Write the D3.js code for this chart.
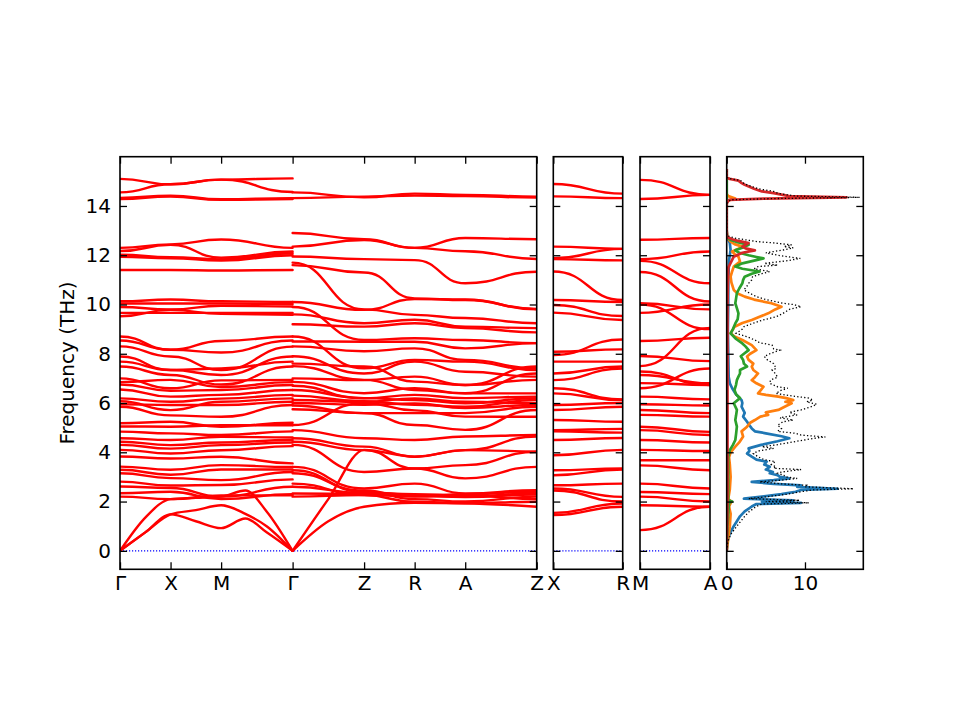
<!DOCTYPE html>
<html><head><meta charset="utf-8">
<script src="https://cdn.jsdelivr.net/npm/d3@7"></script>
<style>body{margin:0;background:#fff} text{font-family:"DejaVu Sans",sans-serif}</style>
</head><body>
<svg id="c" width="960" height="720"></svg>
<script>
// ---------------- DATA ----------------
const qTicksMain = [0, 0.5, 1.0, 1.707, 2.414, 2.914, 3.414, 4.121];
const qLabelsMain = ["Γ","X","M","Γ","Z","R","A","Z"];
const qTicksXR = [0, 0.707]; const qLabelsXR = ["X","R"];
const qTicksMA = [0, 0.707]; const qLabelsMA = ["M","A"];
const freqTicks = [0,2,4,6,8,10,12,14];
const dosTicks = [0,10];

// path Γ-X-M-Γ, values at knots
const knotsA = [0, 0.5, 1.0, 1.707];
const bandsA = [
 [15.10,14.88,15.07,15.12],[14.55,14.88,15.07,14.57],[14.33,14.42,14.27,14.32],[14.28,14.38,14.25,14.28],
 [12.30,12.44,12.64,12.30],[12.17,12.42,11.90,12.15],[12.02,11.92,11.83,12.08],[11.94,11.88,11.78,12.00],
 [11.40,11.40,11.38,11.40],[10.13,10.20,10.13,10.10],[10.04,10.04,10.04,10.02],[9.90,9.80,9.95,9.92],
 [9.66,9.66,9.66,9.66],[9.52,9.78,9.62,9.58],[8.70,8.16,8.52,8.70],[8.54,8.16,8.05,8.54],
 [8.30,7.89,7.34,8.29],[7.89,7.34,7.14,7.89],[7.68,7.34,7.40,7.68],[7.48,7.14,6.75,7.48],
 [7.00,6.60,6.92,6.94],[6.85,6.94,6.65,6.85],[6.75,6.50,6.53,6.73],[6.55,6.26,6.33,6.53],
 [6.19,6.05,6.18,6.33],[6.07,5.71,6.05,6.19],[5.95,5.92,5.92,6.05],[5.85,5.50,5.44,5.92],
 [5.18,5.24,5.04,5.20],[5.05,5.04,5.10,5.10],[4.84,4.77,4.70,4.85],[4.57,4.50,4.63,4.60],
 [4.43,4.29,4.40,4.50],[4.30,4.15,4.29,4.40],[4.10,3.95,4.08,4.25],[3.83,3.75,3.82,3.55],
 [3.42,3.29,3.48,3.40],[3.29,3.09,3.30,3.30],[3.15,2.95,2.87,3.20],[2.81,2.65,2.67,2.90],
 [2.61,2.55,2.20,2.60],[2.34,2.40,2.10,2.30],[2.20,2.10,2.25,2.25]
];
const knotsAcA = [0, 0.25, 0.5, 0.75, 1.0, 1.24, 1.45, 1.707];
const acousticA = [
 [0,0.75,1.48,1.20,0.92,1.31,0.75,0],
 [0,0.75,1.48,1.65,1.85,1.50,1.00,0],
 [0,1.35,2.10,2.15,2.20,2.45,1.60,0]
];
// path Γ-Z-R-A-Z
const knotsB = [1.707, 2.414, 2.914, 3.414, 4.121];
const bandsB = [
 [14.55,14.35,14.50,14.45,14.38],[14.32,14.38,14.42,14.40,14.34],[12.90,12.65,12.30,12.70,12.65],
 [12.35,12.62,12.30,12.16,11.85],[11.95,11.84,11.80,10.86,11.33],[11.60,11.30,10.25,10.18,9.82],
 [11.70,9.80,9.58,9.45,9.24],[10.10,9.78,10.22,10.20,9.80],[9.90,8.56,8.63,8.56,8.43],
 [9.60,9.24,9.38,9.10,9.04],[9.20,9.10,9.24,9.04,8.87],[8.70,7.41,7.75,7.68,7.34],
 [8.50,8.49,8.49,8.22,8.43],[8.30,8.10,8.22,7.75,7.41],[7.90,7.20,7.68,7.27,7.07],
 [7.60,7.48,6.87,6.73,7.48],[7.50,6.94,6.53,6.40,7.20],[7.00,6.93,7.07,6.73,6.94],
 [6.86,6.40,6.60,6.39,6.39],[6.70,6.19,6.33,6.20,6.26],[6.53,6.20,6.12,5.99,6.20],
 [6.30,6.07,5.93,5.85,6.12],[6.12,6.05,6.19,6.05,5.99],[6.00,5.93,5.98,5.80,5.92],
 [5.90,5.59,5.59,5.59,5.85],[5.75,5.59,5.11,4.91,5.72],[5.11,6.00,5.70,5.45,5.44],
 [4.90,4.57,4.50,4.64,4.70],[4.57,4.23,3.82,4.09,4.64],[4.43,4.09,3.34,3.48,4.02],
 [4.30,3.20,3.34,2.94,3.41],[3.41,2.53,2.73,2.33,2.46],[3.27,2.39,2.26,2.20,2.33],
 [3.15,2.45,2.10,2.00,2.20],[2.73,2.26,1.99,1.93,1.99],[2.60,2.35,2.30,2.25,2.10],
 [2.33,2.30,2.20,2.30,2.40],[2.20,2.26,2.22,2.18,2.28]
];
const knotsAcB = [1.707, 2.06, 2.414, 2.914, 3.414, 4.121];
const acousticB = [
 [0,1.20,1.79,1.95,1.93,1.79],
 [0,2.10,4.10,3.82,4.09,4.02]
];
// path X-R
const knotsXR = [0, 0.707];
const bandsXR = [
 [14.89,14.50],[14.39,14.32],[12.35,12.26],[11.88,12.26],[11.84,11.79],[11.34,10.18],[10.18,10.10],
 [9.98,9.53],[9.67,9.37],[8.08,8.18],[7.95,8.58],[7.68,7.68],[7.20,7.48],[6.93,7.40],[6.60,6.15],
 [6.39,6.12],[5.92,6.00],[5.72,5.85],[5.31,5.24],[4.90,4.95],[4.85,4.80],[4.50,4.58],[3.88,4.10],
 [3.27,3.34],[3.07,3.30],[2.66,2.73],[2.53,2.19],[2.45,2.00],[1.54,1.92],[1.45,1.79]
];
// path M-A
const knotsMA = [0, 0.707];
const bandsMA = [
 [15.06,14.45],[14.28,14.45],[12.63,12.70],[11.84,12.15],[11.77,10.86],[11.32,10.12],[10.05,9.80],
 [9.66,10.00],[10.00,9.00],[8.52,8.65],[7.91,7.70],[7.50,9.05],[7.28,6.73],[7.14,6.80],[6.81,6.73],
 [6.60,7.40],[6.26,6.15],[5.95,5.90],[5.72,5.59],[5.52,5.45],[5.04,4.83],[4.90,4.70],[4.50,4.40],
 [4.10,4.05],[3.68,3.68],[3.47,3.27],[2.73,2.53],[2.39,2.30],[2.20,2.00],[1.85,1.79],[0.84,1.79]
];
// DOS: [frequency, states]
const dosBlue = [[0,0],[0.4,0.1],[0.7,0.4],[1.0,0.9],[1.2,1.3],[1.4,1.7],[1.6,2.3],[1.8,3.2],[1.9,3.8],[1.95,9.5],
 [2.0,4.5],[2.05,8.5],[2.12,2.2],[2.2,4.5],[2.3,7.0],[2.4,8.8],[2.47,9.5],[2.52,14.2],[2.6,9.0],[2.66,9.5],
 [2.72,6.0],[2.8,3.2],[2.87,6.0],[2.94,8.0],[3.0,6.8],[3.07,6.5],[3.15,5.5],[3.2,5.9],[3.3,5.0],[3.41,5.5],
 [3.5,4.8],[3.62,5.1],[3.7,3.8],[3.82,3.2],[3.95,2.6],[4.05,2.9],[4.16,2.8],[4.3,4.4],[4.45,6.5],[4.57,8.0],
 [4.65,7.0],[4.77,5.0],[4.85,3.6],[4.97,3.2],[5.1,2.9],[5.24,2.6],[5.45,2.1],[5.6,2.3],[5.85,1.9],[6.0,2.0],
 [6.12,1.9],[6.25,1.5],[6.39,1.1],[6.6,0.7],[6.8,0.4],[7.07,0.25],[8.0,0.2],[9.0,0.15],[10.0,0.2],[11.0,0.2],
 [11.8,0.3],[12.2,0.5],[12.5,0.4],[12.7,0.1],[13.0,0],[15.5,0]];
const dosOrange = [[0,0],[0.5,0.2],[1.0,0.4],[1.5,0.5],[1.8,0.3],[2.0,0.6],[2.1,0.2],[2.5,0.4],[3.0,0.5],[3.5,0.4],
 [3.8,0.3],[4.0,0.5],[4.23,1.1],[4.4,1.6],[4.64,2.1],[4.85,1.9],[5.04,2.6],[5.2,3.0],[5.31,3.6],[5.45,4.3],
 [5.52,5.3],[5.62,5.0],[5.72,6.6],[5.85,7.4],[5.99,8.3],[6.05,7.5],[6.12,8.5],[6.2,7.6],[6.26,6.6],[6.33,5.0],
 [6.39,4.0],[6.5,4.3],[6.66,4.7],[6.8,3.8],[6.93,3.2],[7.05,3.6],[7.2,4.0],[7.34,3.4],[7.48,3.2],[7.6,3.4],
 [7.75,2.8],[7.89,2.6],[8.0,3.0],[8.15,3.8],[8.35,3.2],[8.56,2.0],[8.7,1.0],[8.83,0.5],[9.1,1.0],[9.25,2.0],
 [9.37,3.2],[9.5,4.2],[9.64,5.3],[9.8,6.2],[9.91,7.0],[10.05,5.7],[10.2,3.5],[10.32,2.3],[10.45,1.4],[10.59,0.9],
 [10.9,0.6],[11.13,0.5],[11.35,0.7],[11.54,0.9],[11.74,1.7],[11.94,1.5],[12.05,1.0],[12.15,0.7],[12.25,1.4],[12.35,2.0],
 [12.45,1.0],[12.55,0.5],[12.7,0.1],[13.0,0],[14.2,0],[14.3,1.1],[14.4,0.2],[14.5,0],[15.5,0]];
const dosGreen = [[0,0],[1.0,0.1],[1.5,0.2],[1.95,0.3],[2.0,0.7],[2.05,0.2],[3.0,0.2],[3.82,0.2],[4.09,0.4],[4.3,0.8],
 [4.5,1.1],[4.75,1.2],[5.04,1.3],[5.31,1.1],[5.5,1.2],[5.72,1.3],[5.99,0.9],[6.2,1.7],[6.35,1.2],[6.53,1.0],
 [6.75,1.2],[6.93,1.3],[7.07,1.5],[7.2,1.7],[7.34,1.7],[7.48,2.6],[7.6,2.2],[7.75,2.1],[7.9,1.8],[8.0,2.2],
 [8.15,2.8],[8.3,2.4],[8.42,2.0],[8.6,1.2],[8.83,0.5],[9.0,0.8],[9.23,1.1],[9.4,1.4],[9.64,1.5],[9.85,1.3],
 [10.05,1.1],[10.25,1.2],[10.46,1.3],[10.65,1.6],[10.86,2.0],[11.0,2.1],[11.13,2.3],[11.25,3.2],[11.34,4.2],[11.45,2.0],
 [11.54,1.1],[11.6,1.5],[11.67,2.0],[11.78,3.5],[11.87,4.7],[11.93,3.8],[12.0,2.8],[12.1,1.6],[12.2,1.1],[12.3,2.0],
 [12.42,2.8],[12.52,1.5],[12.62,0.5],[12.75,0],[15.5,0]];
const dosRed = [[0,0],[2,0.1],[5,0.1],[8,0.1],[10,0.1],[11.5,0.2],[11.94,0.9],[12.1,2.0],[12.2,3.6],[12.28,2.4],
 [12.35,2.0],[12.49,2.8],[12.58,1.5],[12.65,0.7],[12.75,0],[14.1,0],[14.25,0.3],[14.3,5.0],[14.35,15.3],[14.4,8.0],
 [14.46,7.0],[14.52,6.0],[14.59,4.5],[14.7,3.5],[14.86,2.3],[14.95,1.8],[15.03,1.5],[15.1,0.4],[15.15,0],[15.5,0]];
const dosTotal = [[0,0],[0.4,0.15],[0.7,0.6],[1.0,1.3],[1.2,1.8],[1.4,2.3],[1.6,2.9],[1.8,3.8],[1.9,4.5],[1.95,10.5],
 [2.0,5.0],[2.05,9.3],[2.12,2.8],[2.2,5.2],[2.3,7.8],[2.4,9.5],[2.47,11.0],[2.52,16.2],[2.6,10.0],[2.66,10.2],
 [2.72,7.0],[2.8,4.2],[2.87,7.0],[2.94,9.0],[3.0,7.5],[3.07,7.3],[3.15,6.5],[3.2,7.0],[3.3,9.5],[3.35,6.0],
 [3.41,6.3],[3.5,5.7],[3.62,6.2],[3.7,4.8],[3.82,4.0],[3.95,3.4],[4.05,4.0],[4.16,6.0],[4.23,4.5],[4.3,6.3],
 [4.45,9.0],[4.57,11.2],[4.62,12.6],[4.7,9.5],[4.77,8.8],[4.85,6.5],[4.97,7.0],[5.1,6.5],[5.24,7.2],[5.31,8.5],
 [5.4,6.8],[5.52,9.0],[5.62,8.0],[5.72,9.5],[5.85,10.8],[5.95,11.5],[6.05,10.2],[6.12,11.0],[6.2,10.5],[6.26,9.0],
 [6.33,7.5],[6.39,6.3],[6.5,6.8],[6.6,7.8],[6.66,6.5],[6.8,5.5],[6.93,5.6],[7.05,6.5],[7.2,6.2],[7.34,5.8],
 [7.4,6.3],[7.48,6.2],[7.6,6.0],[7.75,5.2],[7.89,4.8],[8.0,5.5],[8.15,6.8],[8.2,6.0],[8.35,5.8],[8.45,4.2],
 [8.56,3.6],[8.7,2.5],[8.83,1.2],[9.0,2.0],[9.1,2.2],[9.25,3.5],[9.37,4.6],[9.5,6.3],[9.64,7.2],[9.8,8.0],
 [9.91,9.5],[10.0,8.5],[10.05,7.2],[10.2,5.0],[10.32,3.8],[10.45,3.0],[10.59,2.2],[10.75,2.6],[10.86,2.8],[11.0,3.2],
 [11.13,3.3],[11.25,4.5],[11.34,5.5],[11.45,3.5],[11.54,4.0],[11.6,6.5],[11.67,4.8],[11.78,7.8],[11.87,9.4],[11.93,8.0],
 [12.0,6.5],[12.1,5.0],[12.2,7.0],[12.3,8.5],[12.35,7.3],[12.42,8.3],[12.5,6.0],[12.55,4.0],[12.62,2.5],[12.7,1.0],
 [12.8,0],[14.1,0],[14.25,0.5],[14.3,6.0],[14.35,17.0],[14.4,9.0],[14.46,7.5],[14.52,6.5],[14.59,6.0],[14.7,4.0],
 [14.86,2.6],[14.95,2.0],[15.03,1.8],[15.1,0.6],[15.15,0],[15.5,0]];

// ---------------- DRAWING ----------------
const svg = d3.select('#c');
const yTop = 156.7, yBot = 569.3;
const y = d3.scaleLinear().domain([-0.75, 16.0]).range([yBot, yTop]);
const P1 = {x0:120, x1:536.7}, P2 = {x0:553.3, x1:622.7}, P3 = {x0:640, x1:710}, P4 = {x0:726.7, x1:863.3};
const xMain = d3.scaleLinear().domain([0, 4.121]).range([P1.x0, P1.x1]);
const xXR = d3.scaleLinear().domain([0, 0.707]).range([P2.x0, P2.x1]);
const xMA = d3.scaleLinear().domain([0, 0.707]).range([P3.x0, P3.x1]);
const xDos = d3.scaleLinear().domain([0, 17.45]).range([P4.x0, P4.x1]);

const defs = svg.append('defs');
function clipFor(id, p){
  defs.append('clipPath').attr('id', id).append('rect')
    .attr('x', p.x0).attr('y', yTop).attr('width', p.x1 - p.x0).attr('height', yBot - yTop);
  return svg.append('g').attr('clip-path', `url(#${id})`);
}
const g1 = clipFor('c1', P1), g2 = clipFor('c2', P2), g3 = clipFor('c3', P3), g4 = clipFor('c4', P4);

function drawBands(g, xs, knots, bands, curve){
  const line = d3.line().x((d,i)=>xs(knots[i])).y(d=>y(d)).curve(curve);
  g.selectAll(null).data(bands).enter().append('path')
    .attr('d', line).attr('fill','none').attr('stroke','#ff0000')
    .attr('stroke-width', 2.4).attr('stroke-linecap','round');
}
// zero lines
[[g1,P1],[g2,P2],[g3,P3]].forEach(([g,p])=>{
  g.append('line').attr('x1',p.x0).attr('x2',p.x1).attr('y1',y(0)).attr('y2',y(0))
   .attr('stroke','#0000ff').attr('stroke-width',1.2).attr('stroke-dasharray','1.2,1.8');
});
drawBands(g1, xMain, knotsA, bandsA, d3.curveBumpX);
drawBands(g1, xMain, knotsAcA, acousticA, d3.curveMonotoneX);
drawBands(g1, xMain, knotsB, bandsB, d3.curveBumpX);
drawBands(g1, xMain, knotsAcB, acousticB, d3.curveMonotoneX);
drawBands(g2, xXR, knotsXR, bandsXR, d3.curveBumpX);
drawBands(g3, xMA, knotsMA, bandsMA, d3.curveBumpX);

// DOS
const dosLine = d3.line().x(d=>xDos(d[1])).y(d=>y(d[0]));
[[dosBlue,'#1f77b4'],[dosOrange,'#ff7f0e'],[dosGreen,'#2ca02c'],[dosRed,'#d62728']].forEach(([s,c])=>{
  g4.append('path').attr('d', dosLine(s)).attr('fill','none').attr('stroke',c).attr('stroke-width',2.7)
    .attr('stroke-linejoin','round');
});
g4.append('path').attr('d', dosLine(dosTotal)).attr('fill','none').attr('stroke','#000')
  .attr('stroke-width',1.3).attr('stroke-dasharray','1.3,2.2');

// axes
function styleAxis(sel){
  sel.select('.domain').remove();
  sel.selectAll('line').attr('stroke','#000').attr('stroke-width',1.3);
  sel.selectAll('text').attr('font-size',20).attr('fill','#000').attr('font-family','DejaVu Sans');
}
function panelAxes(p, xs, xt, xl, showY){
  svg.append('g').attr('transform',`translate(${p.x0},0)`)
    .call(d3.axisLeft(y).tickValues(freqTicks).tickSize(-7).tickPadding(9).tickFormat(showY ? d3.format('d') : ''))
    .call(styleAxis);
  svg.append('g').attr('transform',`translate(${p.x1},0)`)
    .call(d3.axisRight(y).tickValues(freqTicks).tickSize(-7).tickFormat(''))
    .call(styleAxis);
  svg.append('g').attr('transform',`translate(0,${yBot})`)
    .call(d3.axisBottom(xs).tickValues(xt).tickSize(-7).tickPadding(6.5).tickFormat((d,i)=>xl[i]))
    .call(styleAxis);
  svg.append('g').attr('transform',`translate(0,${yTop})`)
    .call(d3.axisTop(xs).tickValues(xt).tickSize(-7).tickFormat(''))
    .call(styleAxis);
  svg.append('rect').attr('x',p.x0).attr('y',yTop).attr('width',p.x1-p.x0).attr('height',yBot-yTop)
    .attr('fill','none').attr('stroke','#000').attr('stroke-width',1.6);
}
panelAxes(P1, xMain, qTicksMain, qLabelsMain, true);
panelAxes(P2, xXR, qTicksXR, qLabelsXR, false);
panelAxes(P3, xMA, qTicksMA, qLabelsMA, false);
panelAxes(P4, xDos, dosTicks, dosTicks.map(String), false);

svg.append('text').attr('transform',`translate(74,${(yTop+yBot)/2}) rotate(-90)`)
  .attr('text-anchor','middle').attr('font-size',20).attr('fill','#000').text('Frequency (THz)');
</script>
</body></html>
